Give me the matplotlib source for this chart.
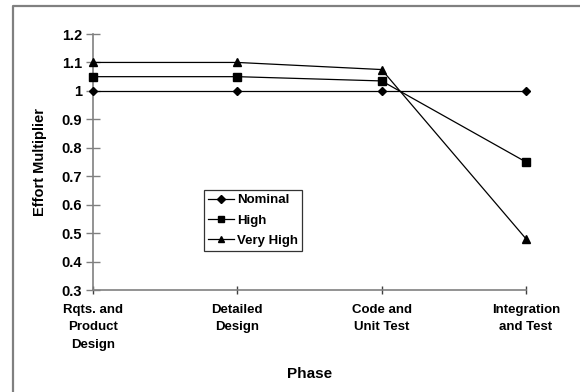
import matplotlib.pyplot as plt
from matplotlib.lines import Line2D

phases = ["Rqts. and\nProduct\nDesign", "Detailed\nDesign", "Code and\nUnit Test", "Integration\nand Test"]
nominal = [1.0, 1.0, 1.0, 1.0]
high = [1.05, 1.05, 1.035, 0.75]
very_high = [1.10, 1.10, 1.075, 0.48]
y_ticks = [0.3, 0.4, 0.5, 0.6, 0.7, 0.8, 0.9, 1.0, 1.1, 1.2]
y_labels = ["0.3", "0.4", "0.5", "0.6", "0.7", "0.8", "0.9", "1", "1.1", "1.2"]

plt.rcParams['font.family'] = ['Liberation Sans', 'DejaVu Sans']
plt.rcParams['font.weight'] = 'bold'

fig = plt.figure(figsize=(5.8, 3.92), dpi=100, facecolor='w')
# outer chart frame (only top and left edges show in the original)
fx, fy = 12.5 / 580, 1 - 5.5 / 392
fig.add_artist(Line2D([fx, fx, 1.0], [0.0, fy, fy], transform=fig.transFigure,
                      color='#808080', linewidth=1.6))

ax = fig.add_axes([93 / 580, 1 - 290 / 392, (526 - 93) / 580, (290 - 34) / 392])
x = range(len(phases))

ax.plot(x, nominal, marker='D', color='black', linewidth=0.9, markersize=4.5,
        label='Nominal', clip_on=False, zorder=3)
ax.plot(x, high, marker='s', color='black', linewidth=0.9, markersize=5.5,
        label='High', clip_on=False, zorder=3)
ax.plot(x, very_high, marker='^', color='black', linewidth=0.9, markersize=6,
        label='Very High', clip_on=False, zorder=3)

ax.set_xlim(0, 3)
ax.set_ylim(0.3, 1.2)
ax.set_xticks(list(x))
ax.set_xticklabels(phases, fontsize=9.5, fontweight='bold', linespacing=1.6)
ax.set_yticks(y_ticks)
ax.set_yticklabels(y_labels, fontsize=10.5, fontweight='bold')

for s in ['top', 'right']:
    ax.spines[s].set_visible(False)
for s in ['left', 'bottom']:
    ax.spines[s].set_color('#808080')
    ax.spines[s].set_linewidth(1.2)
ax.tick_params(axis='y', direction='inout', length=10, width=1, color='#808080', pad=3)
ax.tick_params(axis='x', direction='inout', length=6, width=1, color='#404040', pad=7)

ax.set_ylabel("Effort Multiplier", fontsize=10.5, fontweight='bold', labelpad=10)
ax.set_xlabel("Phase", fontsize=11, fontweight='bold', labelpad=12)

leg = ax.legend(loc='upper left', bbox_to_anchor=((204 - 93) / 433, (290 - 190) / 256),
                frameon=True, fancybox=False, fontsize=9.5, handlelength=2.0,
                handletextpad=0.2, borderpad=0.3, labelspacing=0.62, borderaxespad=0,
                markerscale=0.8)
leg.get_frame().set_edgecolor('black')
leg.get_frame().set_linewidth(0.9)

fig.savefig("out.png", dpi=100)
